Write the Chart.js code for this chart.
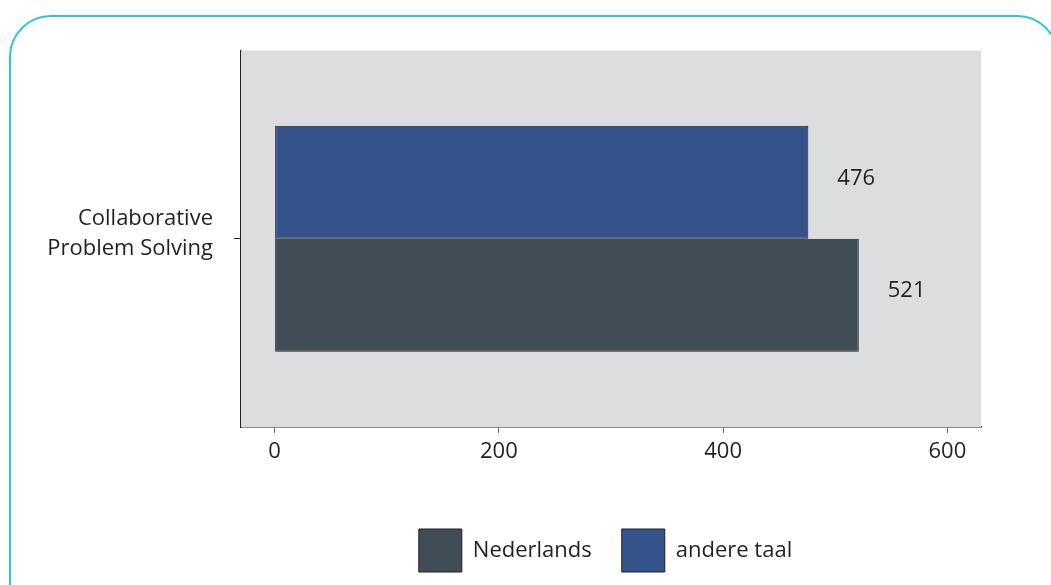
<!DOCTYPE html>
<html>
<head>
<meta charset="utf-8">
<script src="https://cdn.jsdelivr.net/npm/chart.js@4"></script>
<style>
  html,body{margin:0;padding:0;background:#fff;width:1051px;height:585px;overflow:hidden;}
  #frame{position:absolute;left:9px;top:15px;width:1050px;height:640px;border:2px solid #2ec4e3;border-radius:42px;box-sizing:border-box;}
  #wrap{position:absolute;left:0;top:0;width:1051px;height:585px;}
</style>
</head>
<body>
<div id="frame"></div>
<div id="wrap"><canvas id="c" width="1051" height="585"></canvas></div>
<script>
const categories = [['Collaborative', 'Problem Solving']];
const seriesNames = ['andere taal', 'Nederlands'];
const andereTaal = [476];
const nederlands = [521];
const xTickValues = [0, 200, 400, 600];

const FONT = "'Open Sans', sans-serif";

const plotBg = {
  id: 'plotBg',
  beforeDatasetsDraw(chart) {
    const {ctx, chartArea: a} = chart;
    ctx.save();
    ctx.fillStyle = '#dcdddf';
    ctx.fillRect(a.left, a.top, a.right - a.left, a.bottom - a.top);
    ctx.restore();
  }
};

const legendShift = {
  id: 'legendShift',
  afterLayout(chart) {
    if (chart.legend) { chart.legend.left = 230; }
  }
};

const valueLabels = {
  id: 'valueLabels',
  afterDatasetsDraw(chart) {
    const ctx = chart.ctx;
    ctx.save();
    ctx.font = '22px ' + FONT;
    ctx.fillStyle = '#231f20';
    ctx.textAlign = 'left';
    ctx.textBaseline = 'middle';
    chart.data.datasets.forEach((ds, i) => {
      chart.getDatasetMeta(i).data.forEach((bar, j) => {
        ctx.fillText(String(ds.data[j]), bar.x + 29, bar.y - 4);
      });
    });
    ctx.restore();
  }
};

new Chart(document.getElementById('c'), {
  type: 'bar',
  data: {
    labels: categories,
    datasets: [
      {label: seriesNames[0], data: andereTaal, backgroundColor: '#34538a', borderColor: '#231f20', borderWidth: 1, borderSkipped: false},
      {label: seriesNames[1], data: nederlands, backgroundColor: '#414d56', borderColor: '#231f20', borderWidth: 1, borderSkipped: false}
    ]
  },
  options: {
    indexAxis: 'y',
    responsive: false,
    animation: false,
    devicePixelRatio: 1,
    categoryPercentage: 0.6,
    barPercentage: 1,
    layout: {padding: {left: 0, right: 70, top: 49, bottom: 3}},
    scales: {
      x: {
        min: -30, max: 630,
        afterBuildTicks(scale) { scale.ticks = xTickValues.map(v => ({value: v})); },
        afterFit(scale) { scale.height = 72; },
        grid: {drawOnChartArea: false, drawTicks: true, tickLength: 6, color: '#666', lineWidth: 1},
        border: {display: true, color: '#231f20', width: 1.5},
        ticks: {font: {family: FONT, size: 22, lineHeight: 1.34}, color: '#231f20', padding: 4, maxRotation: 0}
      },
      y: {
        afterFit(scale) { scale.width = 241; },
        grid: {drawOnChartArea: false, drawTicks: true, tickLength: 7, offset: false, color: '#231f20', lineWidth: 1},
        border: {display: true, color: '#231f20', width: 1.5},
        ticks: {font: {family: FONT, size: 22, lineHeight: 1.34}, color: '#231f20', padding: 21, labelOffset: -5}
      }
    },
    plugins: {
      legend: {
        position: 'bottom',
        reverse: true,
        labels: {boxWidth: 43, boxHeight: 43, padding: 30, color: '#231f20', font: {family: FONT, size: 22}}
      },
      tooltip: {enabled: false}
    }
  },
  plugins: [plotBg, legendShift, valueLabels]
});
</script>
</body>
</html>
